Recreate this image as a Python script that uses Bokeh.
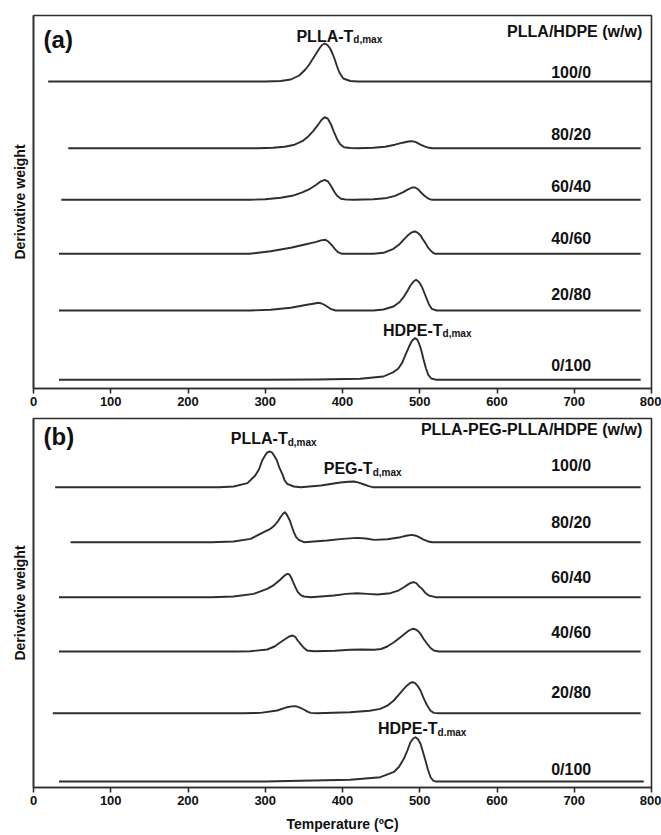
from bokeh.plotting import figure
from bokeh.layouts import column
from bokeh.models import Range1d, FixedTicker, Label
from bokeh.embed import file_html
from bokeh.resources import INLINE

# ---------------- data ----------------
RATIOS = ["100/0", "80/20", "60/40", "40/60", "20/80", "0/100"]
X_TICKS = [0, 100, 200, 300, 400, 500, 600, 700, 800]

# panel (a) PLLA/HDPE : temperature (oC) and derivative weight (arb. units above each baseline)
A_100_0_T = [19, 300, 320, 333, 344, 352, 357, 361, 366, 370, 373.5, 377, 380.5, 384, 387, 390, 393, 396, 401, 410, 420, 800]
A_100_0_W = [0, 0, 0.5, 2, 6, 12, 17, 22, 28, 33, 36.5, 38, 36.5, 33, 28, 22, 15, 9, 3, 0.5, 0, 0]
A_80_20_T = [45, 290, 310, 325, 338, 348, 356, 362, 368, 373, 377, 381, 385, 389, 393, 397, 402, 410, 420, 440, 455, 468, 478, 485, 490, 495, 501, 507, 512, 517, 786]
A_80_20_W = [0, 0, 0.5, 1.5, 3.5, 7, 12, 17, 23, 28.5, 31, 29.5, 24, 16, 9, 4, 1, 0.2, 0, 0.5, 1.5, 3.5, 5.5, 6.7, 7, 6, 3.5, 1.5, 0.4, 0, 0]
A_60_40_T = [36, 280, 300, 320, 335, 348, 358, 366, 372, 377, 381, 385, 389, 393, 398, 405, 415, 440, 455, 468, 478, 485, 490, 494, 498, 502, 506, 511, 516, 786]
A_60_40_W = [0, 0, 0.5, 2, 4, 7.5, 11, 15, 18.5, 20, 18.5, 14, 8.5, 4, 1, 0.2, 0, 0.5, 1.5, 4, 7.5, 10.5, 12.3, 12.3, 10.5, 7, 4, 1.2, 0, 0]
A_40_60_T = [33, 280, 307, 333, 350, 359, 366, 372, 378, 382, 386.6, 390, 394, 399.5, 440, 453, 466, 473, 479, 484, 488, 491.5, 494.4, 497.5, 501, 504, 507.4, 510.5, 514, 517, 520.4, 786]
A_40_60_W = [0, 0, 2.5, 6, 9, 10.7, 12, 13.4, 14, 12, 8.3, 5, 1.7, 0, 0, 1, 5, 9, 14, 18, 20.7, 22, 22.3, 21, 18.3, 14.5, 10.7, 6.5, 3.3, 1.2, 0, 0]
A_20_80_T = [33, 280, 307, 333, 354, 362, 369.4, 373, 377, 381, 384.5, 391, 440, 453, 466, 474, 479, 484, 488, 492, 495.2, 499, 502.6, 506, 509, 512, 515.5, 522, 786]
A_20_80_W = [0, 0, 0.7, 2.7, 5.7, 6.8, 7.7, 7, 5.5, 3.5, 1.7, 0, 0, 1, 4, 8.5, 13.3, 19.5, 25, 29, 30.7, 28.5, 24, 17.5, 11.7, 6, 1.7, 0, 0]
A_0_100_T = [33, 300, 367, 423, 453, 466, 472, 477, 481, 486, 490, 493.6, 496.5, 499, 502, 505, 508, 511, 515, 522, 786]
A_0_100_W = [0, 0, 0.3, 1, 3.3, 7.7, 11, 16.7, 24, 33, 39, 41.7, 40.5, 36.5, 29.5, 20, 11.5, 5, 1.3, 0, 0]
A_OFFSETS = [307, 240.3, 188.7, 134.7, 78, 8.7]

# panel (b) PLLA-PEG-PLLA/HDPE
B_100_0_T = [28, 240, 259, 277, 287, 292, 296, 300, 303, 305.9, 309, 312, 315, 318, 322, 325, 328.4, 337, 346, 372, 397, 408, 414.7, 421, 428, 434, 439, 786]
B_100_0_W = [0, 0, 0.7, 4, 11.7, 18, 26.7, 32, 35, 35.7, 34.5, 31, 27, 20, 13.3, 7, 3.3, 0.7, 0, 1.7, 4.7, 5.5, 5.7, 4.5, 2.7, 1, 0, 0]
B_80_20_T = [48, 230, 259, 281, 298, 306, 312, 316, 319.7, 323, 325.3, 328, 331.8, 334.5, 337, 340, 343.4, 350, 380, 400, 419, 430, 441, 458, 475, 484, 490, 495, 501, 505, 510, 516, 786]
B_80_20_W = [0, 0, 0.7, 3.3, 10, 13, 16.7, 20.5, 25, 28.5, 30, 27.5, 21.7, 15.5, 10, 5, 2.3, 0, 1.7, 3.3, 4.3, 3.7, 2.3, 3, 5, 6.7, 7.3, 6.5, 4.3, 2.5, 1, 0, 0]
B_60_40_T = [33, 230, 259, 285, 302.5, 310, 315.4, 320, 324, 327, 329.2, 331.5, 334, 336.1, 339, 342.2, 346, 350, 359, 389, 405, 419, 432, 445, 462, 472, 479.4, 485, 489, 492.3, 495.5, 499, 503, 507, 511.7, 520.4, 786]
B_60_40_W = [0, 0, 0.7, 3.3, 8.3, 11.5, 15, 18, 21, 22.8, 23.3, 22.5, 19, 15, 10, 5, 2, 0.7, 0, 1.7, 3.3, 4, 3.3, 2.7, 4, 6.5, 10, 12.8, 14.5, 15, 14, 11, 8.3, 4.5, 1.7, 0, 0]
B_40_60_T = [33, 260, 281, 302.5, 312, 319.7, 326, 331, 335.7, 339, 342, 345.6, 349.5, 354.2, 363, 390, 410, 425, 441, 450, 458, 467, 475, 481, 486, 491, 495, 498, 501, 505, 509.6, 514, 518.2, 524.7, 786]
B_40_60_W = [0, 0, 0.3, 2, 5, 9.3, 12.5, 15, 16, 14.5, 11, 7.7, 4, 1, 0.3, 0.8, 1.7, 2, 1.7, 2.5, 5, 9.5, 14.3, 18, 21, 22.7, 22, 20.3, 17.7, 12.5, 7.7, 3.5, 1, 0, 0]
B_20_80_T = [25, 270, 294, 315.4, 328.4, 334, 339.2, 344, 349.9, 354, 358.6, 367, 410, 435, 449, 458, 466.4, 473, 479.4, 484, 488, 491, 494, 497.5, 501, 505, 509.6, 514, 518.2, 525, 786]
B_20_80_W = [0, 0, 0.3, 2.7, 6, 6.8, 7, 5.8, 3.7, 1.8, 0.3, 0, 1, 2.5, 4.3, 7.5, 12.7, 18.5, 24.3, 28, 30.5, 31, 30, 27, 22.7, 15, 7.7, 2.5, 0.3, 0, 0]
B_0_100_T = [33, 300, 345.6, 410, 449, 466, 473, 479.4, 484, 488, 491.5, 494.4, 497.5, 501, 504, 507.4, 510.5, 514, 517, 520.4, 790]
B_0_100_W = [0, 0, 0.7, 1.7, 4.3, 9.3, 14.5, 22.7, 31, 39.3, 43, 44.3, 42.5, 37.7, 30, 21, 12, 4.3, 1.2, 0, 0]
B_OFFSETS = [300.3, 245.3, 190.3, 136, 74.3, 6]

A_CURVES = [(A_100_0_T, A_100_0_W), (A_80_20_T, A_80_20_W), (A_60_40_T, A_60_40_W),
            (A_40_60_T, A_40_60_W), (A_20_80_T, A_20_80_W), (A_0_100_T, A_0_100_W)]
B_CURVES = [(B_100_0_T, B_100_0_W), (B_80_20_T, B_80_20_W), (B_60_40_T, B_60_40_W),
            (B_40_60_T, B_40_60_W), (B_20_80_T, B_20_80_W), (B_0_100_T, B_0_100_W)]

# ---------------- styling ----------------
FONT = "Liberation Sans"
INK = "#111111"
LINE = "#2e2e2e"


def make_panel(height, top, bottom, yspan, curves, offsets, xlabel=None):
    p = figure(width=661, height=height, output_backend="svg", toolbar_location=None,
               x_range=Range1d(0, 800), y_range=Range1d(0, yspan),
               min_border_left=33, min_border_right=10,
               min_border_top=top, min_border_bottom=bottom)
    p.background_fill_color = "white"
    p.border_fill_color = "white"
    p.outline_line_color = LINE
    p.outline_line_width = 1.6
    p.xgrid.visible = False
    p.ygrid.visible = False

    xa = p.xaxis[0]
    xa.ticker = FixedTicker(ticks=X_TICKS)
    xa.axis_line_color = LINE
    xa.axis_line_width = 1.6
    xa.major_tick_line_color = LINE
    xa.major_tick_line_width = 1.6
    xa.major_tick_in = 0
    xa.major_tick_out = 5
    xa.minor_tick_line_color = None
    xa.major_label_standoff = 3
    xa.major_label_text_font = FONT
    xa.major_label_text_font_style = "bold"
    xa.major_label_text_font_size = "13px"
    xa.major_label_text_color = INK
    if xlabel:
        xa.axis_label = xlabel
        xa.axis_label_text_font = FONT
        xa.axis_label_text_font_style = "bold"
        xa.axis_label_text_font_size = "14px"
        xa.axis_label_text_color = INK
        xa.axis_label_standoff = 8

    ya = p.yaxis[0]
    ya.ticker = FixedTicker(ticks=[])
    ya.axis_line_color = LINE
    ya.axis_line_width = 1.6
    ya.major_tick_line_color = None
    ya.minor_tick_line_color = None
    ya.major_label_standoff = 0
    ya.axis_label = "Derivative weight"
    ya.axis_label_text_font = FONT
    ya.axis_label_text_font_style = "bold"
    ya.axis_label_text_font_size = "14px"
    ya.axis_label_text_color = INK
    ya.axis_label_standoff = 6

    for (t, w), off in zip(curves, offsets):
        p.line(t, [off + v for v in w], line_color=LINE, line_width=1.9, line_join="round")
    return p


def label(p, x, y, text, size="16px", align="left", baseline="alphabetic"):
    p.add_layout(Label(x=x, y=y, text=text, text_font=FONT, text_font_style="bold",
                       text_font_size=size, text_color=INK, text_align=align,
                       text_baseline=baseline))


# panel (a)
pa = make_panel(411, 15, 23, 373, A_CURVES, A_OFFSETS)
label(pa, 13, 349, "(a)", size="24px", baseline="middle")
label(pa, 788, 357, "PLLA/HDPE (w/w)", baseline="middle", align="right")
for r, ly in zip(RATIOS, [316.5, 254, 202, 150, 94, 23]):
    label(pa, 696, ly, r, align="center", baseline="middle")
label(pa, 414, 352.5, "PLLA-T", align="right")
label(pa, 414, 349, "d,max", size="10px")
label(pa, 529.5, 58, "HDPE-T", align="right")
label(pa, 529.5, 55, "d,max", size="10px")

# panel (b)
pb = make_panel(424, 7, 48, 369, B_CURVES, B_OFFSETS, xlabel="Temperature (ºC)")
label(pb, 13, 351, "(b)", size="24px", baseline="middle")
label(pb, 788, 358.5, "PLLA-PEG-PLLA/HDPE (w/w)", baseline="middle", align="right")
for r, ly in zip(RATIOS, [322, 265, 210, 155, 95, 18]):
    label(pb, 696, ly, r, align="center", baseline="middle")
label(pb, 329, 349, "PLLA-T", align="right")
label(pb, 329, 345.5, "d,max", size="10px")
label(pb, 439, 319, "PEG-T", align="right")
label(pb, 439, 315, "d,max", size="10px")
label(pb, 523, 59, "HDPE-T", align="right")
label(pb, 523, 55.5, "d.max", size="10px")

layout = column(pa, pb)
open("out.html", "w").write(file_html(layout, INLINE))
